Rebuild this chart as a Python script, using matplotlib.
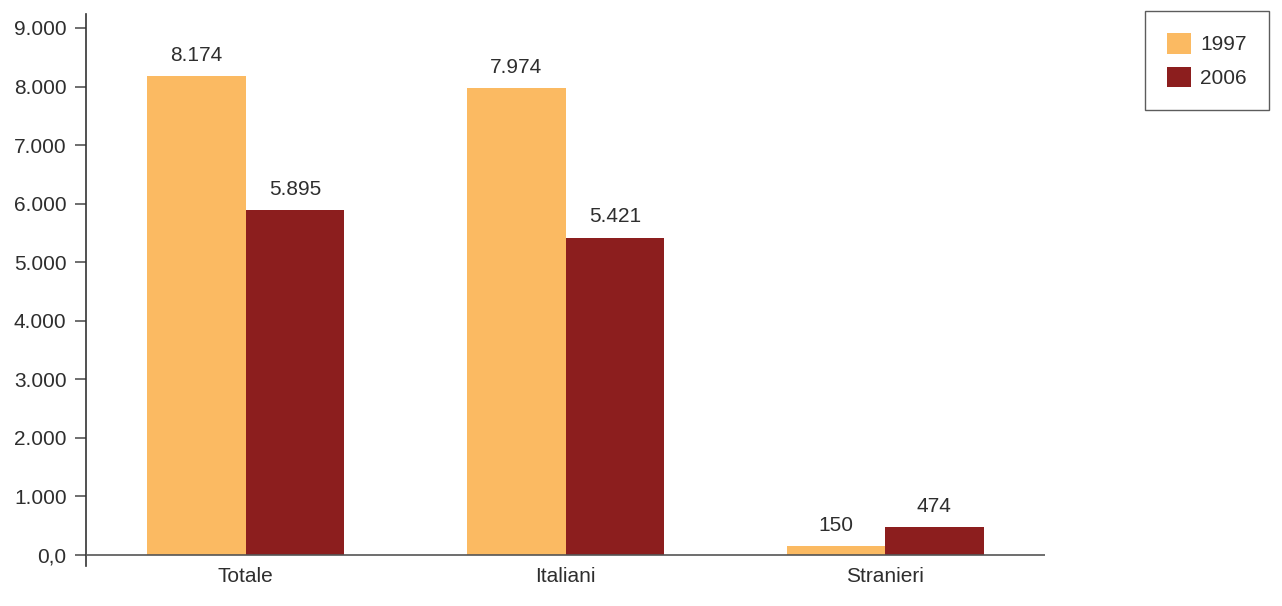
import matplotlib.pyplot as plt
import numpy as np

plt.rcParams['font.family'] = ['Liberation Sans', 'DejaVu Sans']

categories = ['Totale', 'Italiani', 'Stranieri']
series_names = ['1997', '2006']
values_1997 = [8174, 7974, 150]
values_2006 = [5895, 5421, 474]
ytick_values = [0, 1000, 2000, 3000, 4000, 5000, 6000, 7000, 8000, 9000]
ytick_labels = ['0,0', '1.000', '2.000', '3.000', '4.000', '5.000',
                '6.000', '7.000', '8.000', '9.000']

c1997 = '#fbba62'
c2006 = '#8c1e1e'
txt = '#2e2e2e'
fs = 15


def fmt(v):
    return f'{v:,}'.replace(',', '.')


fig = plt.figure(figsize=(12.82, 6.06), dpi=100)
ax = fig.add_axes([86 / 1282, 1 - 566 / 606, (1045 - 86) / 1282, (566 - 14) / 606])

x = np.arange(len(categories))
w = 0.308
b1 = ax.bar(x - w / 2, values_1997, w, color=c1997, label=series_names[0])
b2 = ax.bar(x + w / 2, values_2006, w, color=c2006, label=series_names[1])

for bars, vals in [(b1, values_1997), (b2, values_2006)]:
    for r, v in zip(bars, vals):
        ax.annotate(fmt(v), (r.get_x() + r.get_width() / 2, v),
                    xytext=(0, 8), textcoords='offset points',
                    ha='center', va='bottom', fontsize=fs, color=txt)

ax.set_xlim(-0.5, 2.5)
ax.set_ylim(-188, 9239)
ax.axhline(0, color='#555555', lw=1.2, zorder=3)

ax.set_yticks(ytick_values)
ax.set_yticklabels(ytick_labels)
ax.set_xticks(x)
ax.set_xticklabels(categories)
ax.tick_params(axis='y', length=8, width=1.2, color='#555555', direction='out',
               labelsize=fs, labelcolor=txt, pad=6)
ax.tick_params(axis='x', length=0, labelsize=fs, labelcolor=txt, pad=1)

for s in ['top', 'right', 'bottom']:
    ax.spines[s].set_visible(False)
ax.spines['left'].set_color('#333333')
ax.spines['left'].set_linewidth(1.2)

leg = fig.legend(loc='upper left', bbox_to_anchor=(1145 / 1282, 1 - 11 / 606),
                 fontsize=fs, frameon=True, fancybox=False, handlelength=1.15,
                 handleheight=1.15, borderpad=1.05, labelspacing=0.6,
                 handletextpad=0.45, borderaxespad=0)
leg.get_frame().set_edgecolor('#333333')
leg.get_frame().set_linewidth(1.0)
for t in leg.get_texts():
    t.set_color(txt)

fig.savefig('out.png', dpi=100)
